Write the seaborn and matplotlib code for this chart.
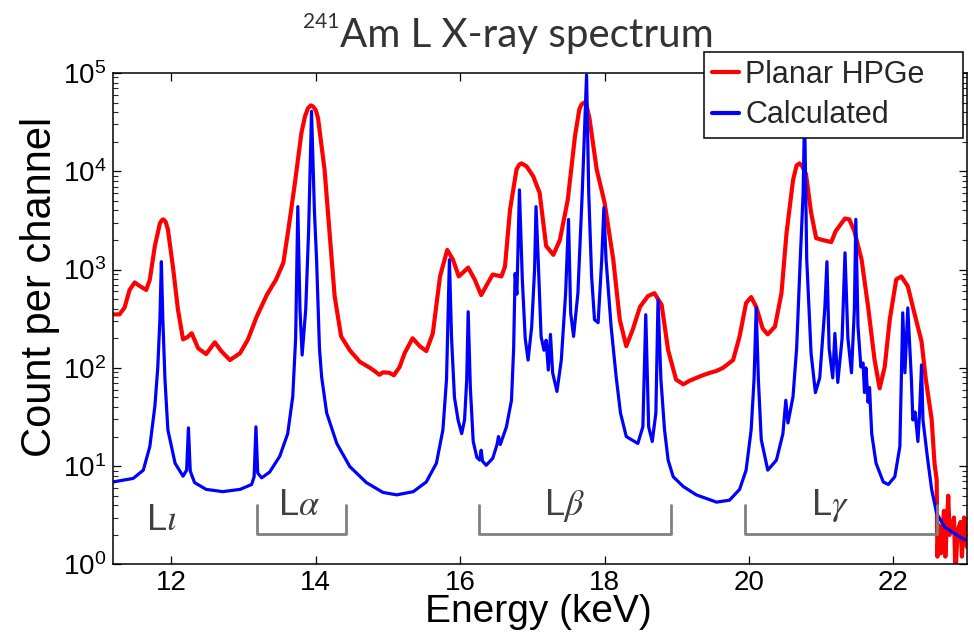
import numpy as np
import pandas as pd
import matplotlib
matplotlib.use("Agg")
import matplotlib.pyplot as plt
import seaborn as sns

# ---------------- data ----------------
hpge_energy = [11.19, 11.28, 11.35, 11.42, 11.49, 11.56, 11.65, 11.70, 11.77, 11.84,
               11.87, 11.89, 11.92, 11.95, 12.02, 12.09, 12.16, 12.22, 12.28, 12.37,
               12.48, 12.60, 12.69, 12.81, 12.95, 13.06, 13.18, 13.32, 13.45, 13.55,
               13.62, 13.71, 13.80, 13.85, 13.89, 13.93, 13.96, 14.00, 14.03, 14.12,
               14.19, 14.26, 14.35, 14.47, 14.61, 14.75, 14.82, 14.88, 14.93, 15.02,
               15.08, 15.16, 15.23, 15.34, 15.44, 15.53, 15.62, 15.72, 15.82, 15.90,
               15.98, 16.11, 16.20, 16.29, 16.38, 16.45, 16.57, 16.62, 16.69, 16.78,
               16.82, 16.85, 16.92, 17.01, 17.10, 17.19, 17.29, 17.38, 17.49, 17.59,
               17.65, 17.68, 17.72, 17.75, 17.79, 17.89, 18.00, 18.12, 18.21, 18.30,
               18.39, 18.49, 18.60, 18.69, 18.79, 18.88, 18.99, 19.09, 19.18, 19.27,
               19.36, 19.46, 19.55, 19.64, 19.78, 19.87, 19.96, 20.03, 20.10, 20.19,
               20.26, 20.36, 20.45, 20.52, 20.61, 20.66, 20.70, 20.74, 20.79, 20.86,
               20.93, 21.02, 21.14, 21.20, 21.33, 21.39, 21.46, 21.56, 21.65, 21.74,
               21.81, 21.88, 21.95, 22.04, 22.11, 22.20, 22.29, 22.39, 22.45, 22.53,
               22.57, 22.60, 22.61, 22.63, 22.66, 22.70, 22.72, 22.76, 22.78, 22.84,
               22.86, 22.89, 22.93, 22.95, 22.98, 23.02]
hpge_counts = [350, 350, 410, 620, 740, 680, 620, 790, 1740, 2950,
               3200, 3240, 3050, 2570, 1070, 390, 195, 205, 225, 158,
               138, 182, 148, 120, 141, 195, 331, 550, 794, 1175,
               2570, 7600, 24500, 36300, 43700, 46800, 45700, 41700, 34700, 10500,
               2344, 537, 209, 151, 115, 100, 92, 85, 90, 89,
               84, 102, 141, 200, 166, 148, 224, 851, 1585, 1259,
               851, 1047, 794, 550, 724, 891, 851, 1072, 4074, 10471,
               11750, 12023, 11200, 8913, 6026, 1738, 1413, 1995, 5129, 22909,
               42700, 47863, 50119, 46800, 34674, 10471, 4786, 1259, 309, 166,
               245, 417, 537, 575, 437, 151, 76, 68, 74, 79,
               84, 89, 93, 100, 120, 209, 457, 525, 417, 251,
               219, 263, 575, 2344, 8128, 11500, 12023, 11200, 9333, 3802,
               2089, 1995, 1905, 2455, 3311, 3236, 2455, 1259, 417, 120,
               62, 102, 309, 794, 851, 676, 363, 186, 76, 30,
               10.7, 7.2, 1.2, 2.5, 1.3, 3.5, 1.2, 5.0, 2.0, 3.0,
               0.8, 2.2, 2.7, 1.2, 3.0, 1.5]

calc_energy = [11.19, 11.47, 11.61, 11.70, 11.77, 11.81, 11.84, 11.86, 11.88, 11.91,
               11.95, 12.05, 12.16, 12.21, 12.235, 12.26, 12.32, 12.48, 12.71, 12.95,
               13.11, 13.145, 13.17, 13.195, 13.25, 13.36, 13.50, 13.61, 13.68, 13.72,
               13.75, 13.78, 13.81, 13.86, 13.90, 13.94, 13.98, 14.01, 14.05, 14.08,
               14.15, 14.29, 14.47, 14.70, 14.93, 15.12, 15.35, 15.53, 15.67, 15.76,
               15.81, 15.83, 15.85, 15.88, 15.92, 15.97, 16.02, 16.06, 16.09, 16.11,
               16.14, 16.18, 16.23, 16.27, 16.29, 16.31, 16.36, 16.45, 16.51, 16.53,
               16.555, 16.64, 16.71, 16.74, 16.76, 16.785, 16.82, 16.86, 16.90, 16.94,
               16.99, 17.03, 17.05, 17.08, 17.12, 17.16, 17.19, 17.22, 17.25, 17.28,
               17.34, 17.40, 17.46, 17.50, 17.53, 17.57, 17.63, 17.69, 17.75, 17.78,
               17.82, 17.86, 17.91, 17.96, 17.99, 18.02, 18.09, 18.16, 18.22, 18.30,
               18.46, 18.53, 18.57, 18.61, 18.66, 18.71, 18.74, 18.78, 18.83, 18.88,
               18.95, 19.09, 19.27, 19.55, 19.73, 19.87, 19.96, 20.03, 20.07, 20.10,
               20.13, 20.17, 20.26, 20.38, 20.47, 20.51, 20.54, 20.61, 20.66, 20.71,
               20.75, 20.77, 20.80, 20.86, 20.92, 20.98, 21.05, 21.08, 21.11, 21.16,
               21.19, 21.23, 21.29, 21.33, 21.37, 21.42, 21.46, 21.48, 21.51, 21.55,
               21.58, 21.60, 21.62, 21.65, 21.67, 21.70, 21.76, 21.86, 21.93, 22.02,
               22.09, 22.13, 22.16, 22.20, 22.25, 22.27, 22.30, 22.34, 22.36, 22.39,
               22.41, 22.47, 22.53, 22.60, 22.71, 22.83, 22.99]
calc_counts = [6.9, 7.5, 9.1, 15.8, 40.7, 100, 316, 1202, 316, 76,
               23.4, 10.7, 7.9, 9.1, 24.5, 8.9, 6.8, 5.8, 5.5, 5.8,
               6.5, 7.8, 25.1, 8.5, 7.6, 8.7, 12.6, 21.4, 51, 200,
               4365, 398, 135, 398, 2512, 40738, 3981, 1259, 158, 81,
               34.7, 17.0, 9.9, 6.8, 5.4, 5.1, 5.5, 6.9, 10.7, 23.4,
               76, 316, 1259, 200, 50, 29.5, 21.4, 29.5, 76, 372,
               63, 17.8, 12.3, 11.5, 14.5, 11.2, 10.2, 12.0, 16.6, 20,
               16.6, 25.1, 46.8, 158, 912, 562, 6457, 794, 200, 120,
               263, 1000, 4365, 1259, 209, 151, 191, 95, 219, 89,
               57.5, 120, 575, 3236, 363, 209, 575, 6026, 95499, 6026,
               851, 309, 288, 1259, 4266, 1259, 263, 81, 34.7, 20,
               17, 25.1, 347, 25.1, 17.8, 34.7, 490, 76, 23.4, 11.5,
               7.8, 6.2, 5.1, 4.3, 4.5, 5.8, 9.1, 23.4, 76, 407,
               76, 18.6, 9.1, 11.5, 21.4, 46.8, 27.5, 51, 158, 1259,
               6026, 39811, 1259, 141, 56, 79, 398, 1202, 158, 79,
               224, 71, 200, 1479, 200, 89, 398, 3236, 263, 102,
               112, 56, 100, 44.7, 63, 21.4, 10.7, 6.9, 6.5, 7.8,
               15.8, 363, 89, 407, 76, 29.5, 35.5, 17.8, 31.6, 107,
               29.5, 12.6, 5.8, 3.3, 2.4, 2.1, 1.78]

series_labels = ["Planar HPGe", "Calculated"]
x_ticks = [12, 14, 16, 18, 20, 22]

# line-group annotations: (label, text energy, text counts, bracket start, bracket end)
group_labels = [r"L$\iota$", r"L$\alpha$", r"L$\beta$", r"L$\gamma$"]
group_text_x = [11.65, 13.48, 17.16, 20.86]
group_text_y = [2.24, 3.18, 3.18, 3.18]
bracket_start = [None, 13.18, 16.26, 19.95]
bracket_end = [None, 14.42, 18.92, 22.60]
bracket_top = 4.03
bracket_bottom = 2.04

# ---------------- styling ----------------
sns.set_theme(style="ticks")
plt.rcParams["font.family"] = ["Liberation Sans", "DejaVu Sans"]
plt.rcParams["mathtext.fontset"] = "stix"
plt.rcParams["xtick.direction"] = "in"
plt.rcParams["ytick.direction"] = "in"

fig = plt.figure(figsize=(9.74, 6.42), dpi=100)
fig.patch.set_facecolor("white")
ax = fig.add_axes([113 / 974, 1 - 564.4 / 642, 854 / 974, 491.4 / 642])
ax.set_facecolor("white")

df_hpge = pd.DataFrame({"energy": hpge_energy, "counts": hpge_counts})
df_calc = pd.DataFrame({"energy": calc_energy, "counts": calc_counts})

sns.lineplot(data=df_hpge, x="energy", y="counts", ax=ax, color="#ff0000",
             linewidth=3.0, estimator=None, sort=False, label=series_labels[0])
sns.lineplot(data=df_calc, x="energy", y="counts", ax=ax, color="#0000ff",
             linewidth=2.3, estimator=None, sort=False, label=series_labels[1])

ax.set_yscale("log")
ax.set_xlim(11.19, 23.02)
ax.set_ylim(1, 1e5)
ax.set_xticks(x_ticks)
ax.set_xticklabels([str(t) for t in x_ticks])
ax.xaxis.set_minor_locator(matplotlib.ticker.NullLocator())

for s in ax.spines.values():
    s.set_color("black")
    s.set_linewidth(1.1)
ax.tick_params(axis="both", which="major", direction="in", length=6, width=0.9,
               labelsize=20, colors="black", top=True, right=True, pad=4)
ax.tick_params(axis="y", which="minor", direction="in", length=3.5, width=0.8,
               left=True, right=True)
ax.tick_params(axis="y", which="major", pad=5)

ax.set_xlabel("Energy (keV)", fontsize=28, color="black")
ax.set_ylabel("Count per channel", fontsize=30, color="black")
ax.xaxis.set_label_coords(0.498, -0.060)
ax.yaxis.set_label_coords(-0.062, 0.565)

# brackets and labels
gray = "#808080"
for lab, tx, ty, b0, b1 in zip(group_labels, group_text_x, group_text_y,
                               bracket_start, bracket_end):
    ax.text(tx, ty, lab, fontsize=26, color="#404040", ha="left", va="baseline")
    if b0 is not None:
        ax.plot([b0, b0, b1, b1], [bracket_top, bracket_bottom, bracket_bottom, bracket_top],
                color=gray, linewidth=2.0, solid_joinstyle="round")

# legend
leg = ax.legend(loc="upper left", bbox_to_anchor=(704 / 974, 1 - 148 / 642, 259 / 974, 96 / 642),
                bbox_transform=fig.transFigure, mode="expand", borderaxespad=0,
                fontsize=22, handlelength=0.9, handletextpad=0.2, borderpad=0.25,
                labelspacing=0.35, frameon=True, fancybox=False, framealpha=1)
leg.get_frame().set_edgecolor("black")
leg.get_frame().set_linewidth(1.1)
for line in leg.get_lines():
    line.set_linewidth(3.0)

# title with superscript
fig.text(340 / 974, 1 - 47 / 642, "Am L X-ray spectrum", fontsize=29, family="Lato",
         color="#333333", ha="left", va="baseline")
fig.text(339 / 974, 1 - 28 / 642, "241", fontsize=15, family="Lato",
         color="#333333", ha="right", va="baseline")

fig.savefig("out.png", dpi=100, facecolor="white")
